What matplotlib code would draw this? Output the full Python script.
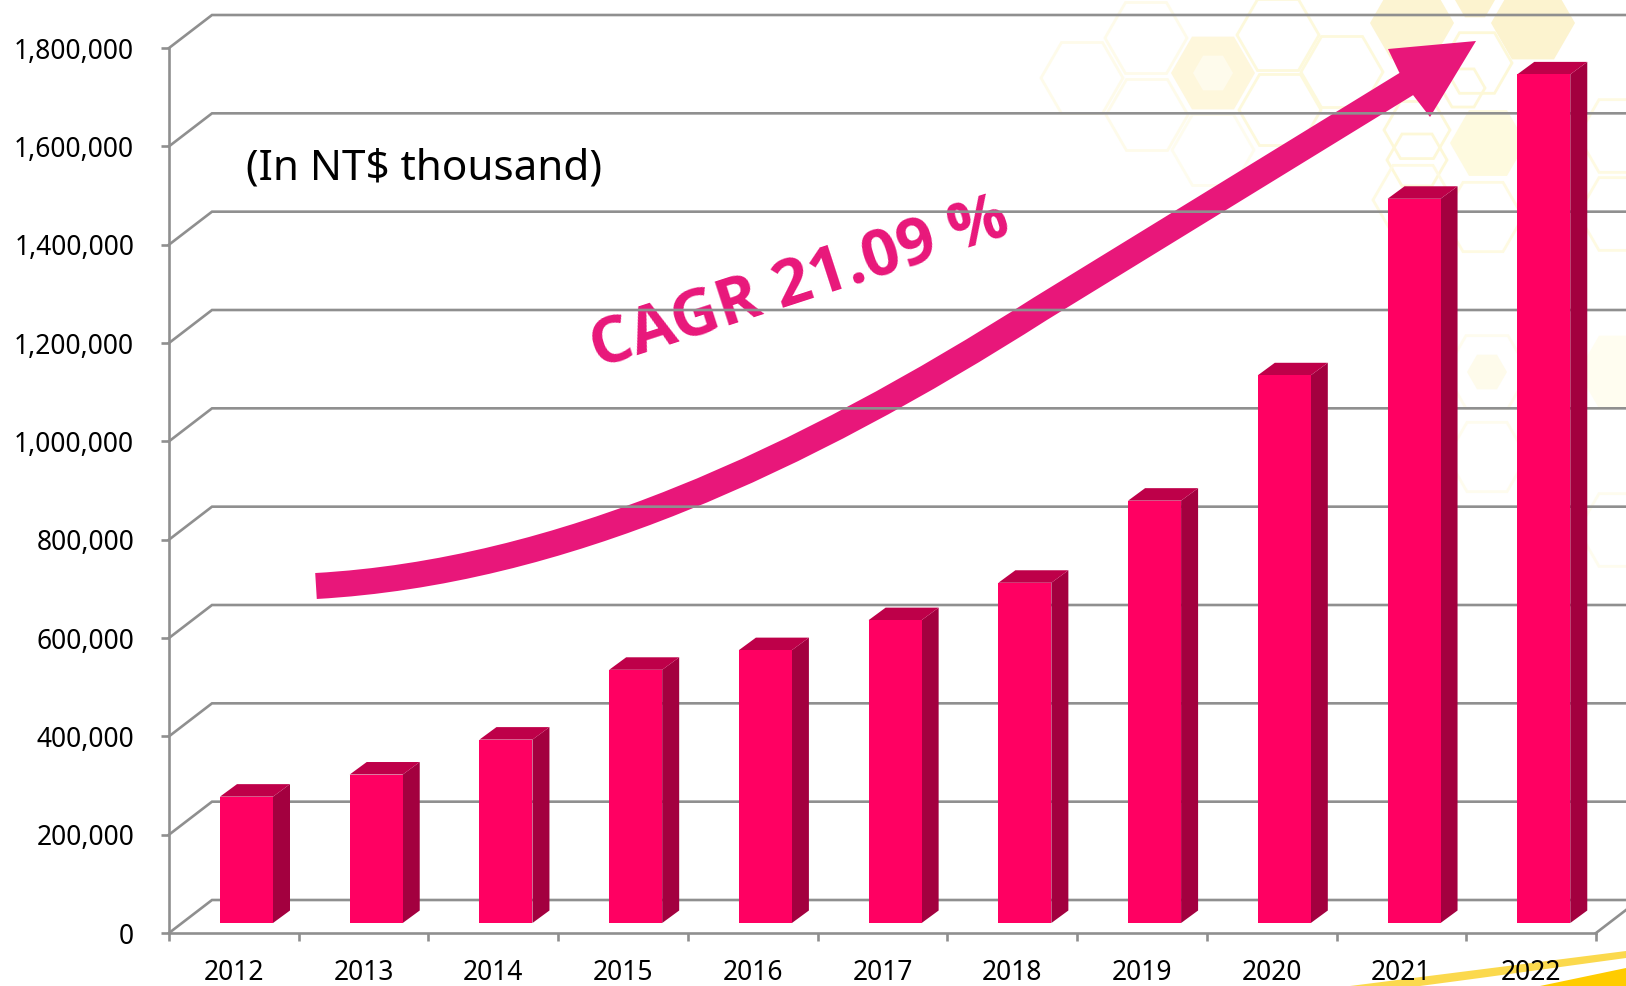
import numpy as np
import matplotlib.pyplot as plt
from matplotlib.patches import RegularPolygon, PathPatch, Polygon
from matplotlib.path import Path

years = ["2012", "2013", "2014", "2015", "2016", "2017", "2018", "2019", "2020", "2021", "2022"]
revenue = [257000, 302000, 373000, 515000, 555000, 616000, 692000, 859000, 1114000, 1473000, 1726000]
y_ticks = [0, 200000, 400000, 600000, 800000, 1000000, 1200000, 1400000, 1600000, 1800000]

# pixel positions of the decoration
arrow_start = (316, 586)
arrow_ctrl = [(560, 572), (800, 462), (1040, 309)]
arrow_neck = (1408, 83)
arrow_head = [(1476, 41), (1388, 49), (1399, 72), (1413, 95), (1430, 117)]
# x, y, radius, colour
hex_filled = [(1412, 23, 42, '#FCF4D2'), (1533, 23, 42, '#FCF3CF'), (1475, 0, 20, '#FCF3CF'),
              (1213, 73, 42, '#FEF7DC'), (1488, 143, 38, '#FEFADF'), (1487, 372, 20, '#FEFBEB'),
              (1620, 372, 42, '#FFFDF0')]
hex_lighter = [(1213, 73, 20)]
hex_outline = [(1082, 78, 41, '#FEFBEA'), (1146, 38, 41, '#FEFBEA'), (1147, 115, 41, '#FEFBEA'),
               (1213, 150, 41, '#FEFCEE'), (1278, 35, 41, '#FDF9DC'), (1280, 110, 41, '#FDF9DC'),
               (1342, 72, 41, '#FDF9DC'), (1477, 63, 35, '#FDF8D8'), (1417, 130, 33, '#FDF8D8'),
               (1417, 160, 30, '#FDF8D8'), (1463, 88, 22, '#FDF8D8'), (1413, 200, 40, '#FEFAE2'),
               (1483, 217, 40, '#FEFAE2'), (1620, 136, 42, '#FEFAE2'), (1620, 214, 42, '#FEFAE2'),
               (1487, 372, 42, '#FEFCEE'), (1487, 457, 40, '#FEFCEE'), (1620, 530, 42, '#FEFCEE')]

plt.rcParams['font.family'] = ['Noto Sans', 'DejaVu Sans']

W, H = 1626, 986
fig = plt.figure(figsize=(W / 100, H / 100), dpi=100)

# background layer in pixels
bg = fig.add_axes([0, 0, 1, 1], zorder=0)
bg.set_xlim(0, W)
bg.set_ylim(H, 0)
bg.axis('off')

for x, y, r, c in hex_outline:
    bg.add_patch(RegularPolygon((x, y), 6, radius=r, orientation=np.pi / 2, fc='none', ec=c, lw=2))
for x, y, r, c in hex_filled:
    bg.add_patch(RegularPolygon((x, y), 6, radius=r, orientation=np.pi / 2, fc=c, ec='none'))
for x, y, r in hex_lighter:
    bg.add_patch(RegularPolygon((x, y), 6, radius=r, orientation=np.pi / 2, fc='#FEFBEC', ec='none'))

bg.add_patch(Polygon([(1350, 986), (1626, 951), (1626, 958), (1480, 978), (1420, 986)], fc='#FBD94D', ec='none'))
bg.add_patch(Polygon([(1540, 986), (1626, 968), (1626, 986)], fc='#FFCC00', ec='none'))

# arrow shaft
verts = [arrow_start] + arrow_ctrl + [arrow_neck]
codes = [Path.MOVETO, Path.CURVE4, Path.CURVE4, Path.CURVE4, Path.LINETO]
bg.add_patch(PathPatch(Path(verts, codes), fc='none', ec='#E8177A', lw=26 * 0.72, capstyle='butt'))
bg.add_patch(Polygon(arrow_head, fc='#E8177A', ec='none'))

bg.text(800, 285, "CAGR 21.09 %", family='Open Sans', color='#E8177A', fontsize=47, fontweight='bold',
        rotation=18, ha='center', va='center', rotation_mode='anchor')

# chart layer, x in category slots and y in values
ax = fig.add_axes([169 / W, 1 - 933 / H, (1596 - 169) / W, (933 - 48) / H], zorder=1)
ax.patch.set_alpha(0)
ax.set_xlim(0, 11)
ax.set_ylim(0, 1800000)

px_x = 11 / (1596 - 169)
px_y = 1800000 / (933 - 48)
back_dx = 43 * px_x
back_dy = 33 * px_y
right_end = (W - 169) * px_x
line_c = '#8F8F8F'
line_w = 1.9

for v in y_ticks:
    ax.plot([0, back_dx, right_end], [v, v + back_dy, v + back_dy], color=line_c, lw=line_w,
            clip_on=False, zorder=2, solid_joinstyle='miter')
ax.plot([11, right_end], [0, (right_end - 11) * back_dy / back_dx], color=line_c, lw=line_w,
        clip_on=False, zorder=2)

# 3d looking bars
xs = np.arange(len(years))
bar_off = 51 * px_x
bar_w = 53 * px_x
floor = 10 * px_y
side_dx = 17 * px_x
side_dy = 12.5 * px_y
ax.bar(xs + bar_off, revenue, width=bar_w, bottom=floor, align='edge', color='#FF0062', zorder=5, clip_on=False)
for x, v in zip(xs, revenue):
    l = x + bar_off
    r = l + bar_w
    top = floor + v
    ax.fill([r, r + side_dx, r + side_dx, r], [floor, floor + side_dy, top + side_dy, top],
            color='#A3003F', lw=0, zorder=4, clip_on=False)
    ax.fill([l, l + side_dx, r + side_dx, r], [top, top + side_dy, top + side_dy, top],
            color='#BE0049', lw=0, zorder=4, clip_on=False)

for s in ['top', 'right']:
    ax.spines[s].set_visible(False)
for s in ['left', 'bottom']:
    ax.spines[s].set_color(line_c)
    ax.spines[s].set_linewidth(line_w)

ax.set_yticks(y_ticks)
ax.set_yticklabels([f"{v:,}" for v in y_ticks])
ax.tick_params(axis='y', length=6, width=line_w, color=line_c, labelsize=19, pad=19)
ax.set_xticks(np.arange(12))
ax.set_xticklabels([])
ax.set_xticks(xs + 0.5, years, minor=True)
ax.tick_params(axis='x', which='major', length=6, width=line_w, color=line_c)
ax.tick_params(axis='x', which='minor', length=0, labelsize=19, pad=18.5)

bg.text(246, 168, "(In NT$ thousand)", fontsize=30.4, ha='left', va='center', color='black')

fig.savefig("out.png", dpi=100)
